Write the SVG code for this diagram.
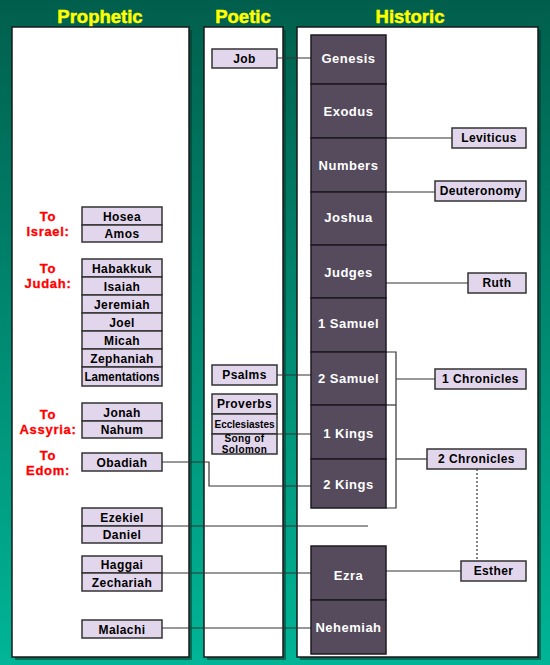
<svg xmlns="http://www.w3.org/2000/svg" width="550" height="665" viewBox="0 0 550 665">
<defs>
<linearGradient id="bg" x1="0" y1="0" x2="0" y2="1">
<stop offset="0" stop-color="#005f4c"/>
<stop offset="0.5" stop-color="#008a72"/>
<stop offset="1" stop-color="#00b596"/>
</linearGradient>
</defs>
<style>
.hdr{font-family:"Liberation Sans",Arial,sans-serif;font-weight:bold;font-size:18.5px;fill:#ffff00;stroke:#ffff00;stroke-width:0.5;text-anchor:middle}
.panel{fill:#ffffff;stroke:#1a1a1a;stroke-width:1.5}
.shadow{fill:#003a2e;opacity:0.6}
.dark rect{fill:#554b5c;stroke:#1e1a22;stroke-width:1.5}
.dark text{font-family:"Liberation Sans",Arial,sans-serif;font-weight:bold;font-size:13px;letter-spacing:0.5px;fill:#ffffff;text-anchor:middle}
.light rect{fill:#e2d6ec;stroke:#333333;stroke-width:1.5}
.light text{font-family:"Liberation Sans",Arial,sans-serif;font-weight:bold;font-size:12px;letter-spacing:0.4px;fill:#000000;text-anchor:middle}
.red{font-family:"Liberation Sans",Arial,sans-serif;font-weight:bold;font-size:13px;letter-spacing:0.7px;fill:#ff0000;stroke:#ff0000;stroke-width:0.3;text-anchor:middle}
.conn path{fill:none;stroke:#333333;stroke-width:1.2}
.dot{stroke-dasharray:2,2}
</style>
<rect x="0" y="0" width="550" height="665" fill="url(#bg)"/>
<g id="headers">
<text class="hdr" x="100" y="23">Prophetic</text>
<text class="hdr" x="243" y="23">Poetic</text>
<text class="hdr" x="410" y="23">Historic</text>
</g>
<g id="panels">
<rect class="shadow" x="15" y="30" width="177" height="630"/>
<rect class="panel" x="12" y="27" width="177" height="630"/>
<rect class="shadow" x="207" y="30" width="79" height="630"/>
<rect class="panel" x="204" y="27" width="79" height="630"/>
<rect class="shadow" x="300" y="30" width="241" height="630"/>
<rect class="panel" x="297" y="27" width="241" height="630"/>
</g>
<g id="labels">
<text class="red" x="48" y="221">To</text>
<text class="red" x="48" y="236">Israel:</text>
<text class="red" x="48" y="273">To</text>
<text class="red" x="48" y="288">Judah:</text>
<text class="red" x="48" y="419">To</text>
<text class="red" x="48" y="434">Assyria:</text>
<text class="red" x="48" y="460">To</text>
<text class="red" x="48" y="475">Edom:</text>
</g>
<g id="connectors" class="conn">
<path d="M277,58 H311"/>
<path d="M386,138 H452"/>
<path d="M386,192 H435"/>
<path d="M386,283 H468"/>
<path d="M386,352 H396 V508 H386"/>
<path d="M386,405 H396"/>
<path d="M396,379 H435"/>
<path d="M396,459 H427"/>
<path class="dot" d="M477,469 V561"/>
<path d="M386,571 H461"/>
<path d="M277,375 H311"/>
<path d="M277,434 H311"/>
<path d="M162,462 H209 V486 H311"/>
<path d="M162,526 H368"/>
<path d="M162,573 H311"/>
<path d="M162,628 H311"/>
</g>
<g id="genesis" class="dark"><rect x="311" y="35" width="75" height="49"/><text x="348.5" y="63">Genesis</text></g>
<g id="exodus" class="dark"><rect x="311" y="84" width="75" height="54"/><text x="348.5" y="116">Exodus</text></g>
<g id="numbers" class="dark"><rect x="311" y="138" width="75" height="54"/><text x="348.5" y="169.5">Numbers</text></g>
<g id="joshua" class="dark"><rect x="311" y="192" width="75" height="53"/><text x="348.5" y="222">Joshua</text></g>
<g id="judges" class="dark"><rect x="311" y="245" width="75" height="53"/><text x="348.5" y="276.5">Judges</text></g>
<g id="samuel1" class="dark"><rect x="311" y="298" width="75" height="54"/><text x="348.5" y="328">1 Samuel</text></g>
<g id="samuel2" class="dark"><rect x="311" y="352" width="75" height="53"/><text x="348.5" y="383">2 Samuel</text></g>
<g id="kings1" class="dark"><rect x="311" y="405" width="75" height="54"/><text x="348.5" y="437.5">1 Kings</text></g>
<g id="kings2" class="dark"><rect x="311" y="459" width="75" height="49"/><text x="348.5" y="488.5">2 Kings</text></g>
<g id="ezra" class="dark"><rect x="311" y="546" width="75" height="54"/><text x="348.5" y="579.5">Ezra</text></g>
<g id="nehemiah" class="dark"><rect x="311" y="600" width="75" height="54"/><text x="348.5" y="631.5">Nehemiah</text></g>
<g id="leviticus" class="light"><rect x="452" y="128" width="74" height="20"/><text x="489" y="142">Leviticus</text></g>
<g id="deuteronomy" class="light"><rect x="435" y="181" width="91" height="20"/><text x="480.5" y="195">Deuteronomy</text></g>
<g id="ruth" class="light"><rect x="468" y="273" width="58" height="20"/><text x="497" y="287">Ruth</text></g>
<g id="chronicles1" class="light"><rect x="435" y="369" width="91" height="20"/><text x="480.5" y="383">1 Chronicles</text></g>
<g id="chronicles2" class="light"><rect x="427" y="449" width="99" height="20"/><text x="476.5" y="463">2 Chronicles</text></g>
<g id="esther" class="light"><rect x="461" y="561" width="65" height="20"/><text x="493.5" y="575">Esther</text></g>
<g id="job" class="light"><rect x="212" y="49" width="65" height="19"/><text x="244.5" y="62.5">Job</text></g>
<g id="psalms" class="light"><rect x="212" y="365" width="65" height="20"/><text x="244.5" y="379">Psalms</text></g>
<g id="proverbs" class="light"><rect x="212" y="394" width="65" height="20"/><text x="244.5" y="408">Proverbs</text></g>
<g id="ecclesiastes" class="light"><rect x="212" y="414" width="65" height="20"/><text x="244.5" y="427.5" style="font-size:10px;letter-spacing:0">Ecclesiastes</text></g>
<g id="song" class="light"><rect x="212" y="434" width="65" height="20"/><text style="font-size:10px;letter-spacing:0.4px"><tspan x="244.5" y="441.5">Song of</tspan><tspan x="244.5" y="453">Solomon</tspan></text></g>
<g id="hosea" class="light"><rect x="82" y="207" width="80" height="18"/><text x="122" y="220.5">Hosea</text></g>
<g id="amos" class="light"><rect x="82" y="225" width="80" height="17"/><text x="122" y="238">Amos</text></g>
<g id="habakkuk" class="light"><rect x="82" y="259" width="80" height="18"/><text x="122" y="272.5">Habakkuk</text></g>
<g id="isaiah" class="light"><rect x="82" y="277" width="80" height="18"/><text x="122" y="290.5">Isaiah</text></g>
<g id="jeremiah" class="light"><rect x="82" y="295" width="80" height="18"/><text x="122" y="308.5">Jeremiah</text></g>
<g id="joel" class="light"><rect x="82" y="313" width="80" height="18"/><text x="122" y="326.5">Joel</text></g>
<g id="micah" class="light"><rect x="82" y="331" width="80" height="18"/><text x="122" y="344.5">Micah</text></g>
<g id="zephaniah" class="light"><rect x="82" y="349" width="80" height="18"/><text x="122" y="362.5">Zephaniah</text></g>
<g id="lamentations" class="light"><rect x="82" y="367" width="80" height="19"/><text x="122" y="381" textLength="75" lengthAdjust="spacingAndGlyphs" style="letter-spacing:0">Lamentations</text></g>
<g id="jonah" class="light"><rect x="82" y="403" width="80" height="18"/><text x="122" y="416.5">Jonah</text></g>
<g id="nahum" class="light"><rect x="82" y="421" width="80" height="17"/><text x="122" y="434">Nahum</text></g>
<g id="obadiah" class="light"><rect x="82" y="453" width="80" height="18"/><text x="122" y="466.5">Obadiah</text></g>
<g id="ezekiel" class="light"><rect x="82" y="508" width="80" height="18"/><text x="122" y="521.5">Ezekiel</text></g>
<g id="daniel" class="light"><rect x="82" y="526" width="80" height="17"/><text x="122" y="539">Daniel</text></g>
<g id="haggai" class="light"><rect x="82" y="556" width="80" height="17"/><text x="122" y="569">Haggai</text></g>
<g id="zechariah" class="light"><rect x="82" y="573" width="80" height="18"/><text x="122" y="586.5">Zechariah</text></g>
<g id="malachi" class="light"><rect x="82" y="620" width="80" height="18"/><text x="122" y="633.5">Malachi</text></g>
</svg>
